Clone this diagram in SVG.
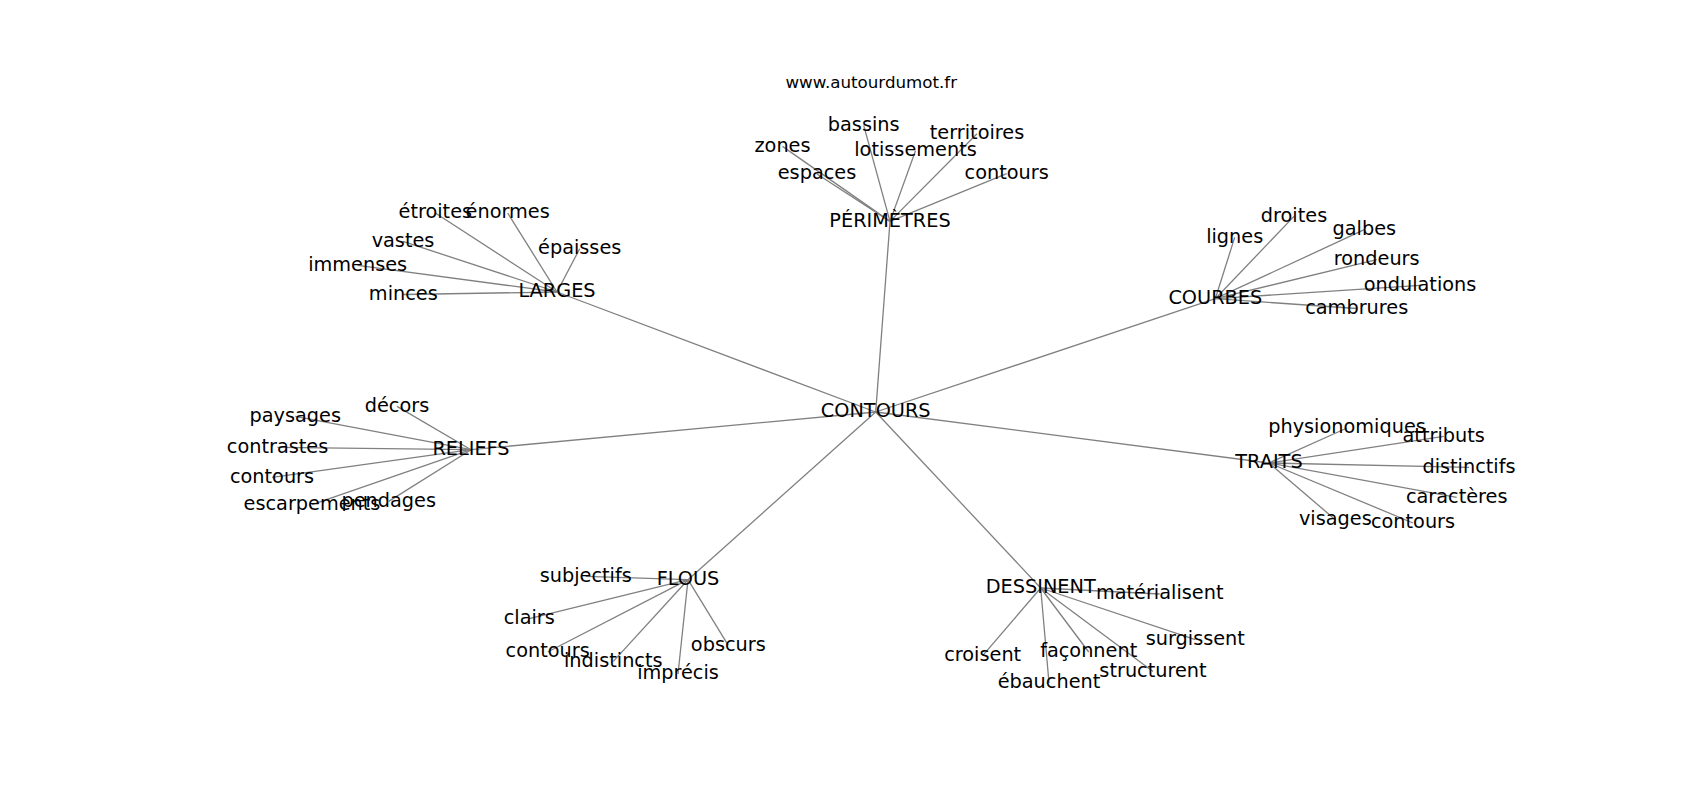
<svg xmlns="http://www.w3.org/2000/svg" width="1700" height="800" viewBox="0 0 1700 800">
<style>
text{font-family:"DejaVu Sans",sans-serif;font-size:19.3px;fill:#000;text-anchor:middle}
.title{font-size:16.7px}
.e line{stroke:#808080;stroke-width:1.3}
</style>
<rect width="1700" height="800" fill="#fff"/>
<g class="e" id="edges">
<line x1="875.7" y1="412" x2="890" y2="221.4"/>
<line x1="875.7" y1="412" x2="557" y2="292"/>
<line x1="875.7" y1="412" x2="1215.3" y2="298.7"/>
<line x1="875.7" y1="412" x2="471" y2="449.7"/>
<line x1="875.7" y1="412" x2="1269" y2="463"/>
<line x1="875.7" y1="412" x2="688" y2="579.7"/>
<line x1="875.7" y1="412" x2="1040.7" y2="588"/>
<line x1="890" y1="221.4" x2="782.5" y2="146.4"/>
<line x1="890" y1="221.4" x2="817" y2="174"/>
<line x1="890" y1="221.4" x2="863.7" y2="125.4"/>
<line x1="890" y1="221.4" x2="915.5" y2="150.7"/>
<line x1="890" y1="221.4" x2="977" y2="133.7"/>
<line x1="890" y1="221.4" x2="1006.7" y2="173.7"/>
<line x1="557" y1="292" x2="435.3" y2="213"/>
<line x1="557" y1="292" x2="507.7" y2="213"/>
<line x1="557" y1="292" x2="403" y2="241.4"/>
<line x1="557" y1="292" x2="357.7" y2="265.4"/>
<line x1="557" y1="292" x2="403.3" y2="294.5"/>
<line x1="557" y1="292" x2="579.7" y2="248.7"/>
<line x1="1215.3" y1="298.7" x2="1234.7" y2="237.4"/>
<line x1="1215.3" y1="298.7" x2="1294" y2="216.4"/>
<line x1="1215.3" y1="298.7" x2="1364.3" y2="229.7"/>
<line x1="1215.3" y1="298.7" x2="1376.7" y2="259.7"/>
<line x1="1215.3" y1="298.7" x2="1420" y2="285.4"/>
<line x1="1215.3" y1="298.7" x2="1356.7" y2="308.5"/>
<line x1="471" y1="449.7" x2="397" y2="406.4"/>
<line x1="471" y1="449.7" x2="295.3" y2="416.4"/>
<line x1="471" y1="449.7" x2="277.5" y2="447.4"/>
<line x1="471" y1="449.7" x2="272" y2="477.4"/>
<line x1="471" y1="449.7" x2="312" y2="504.7"/>
<line x1="471" y1="449.7" x2="388.7" y2="501.4"/>
<line x1="1269" y1="463" x2="1347" y2="428"/>
<line x1="1269" y1="463" x2="1443.7" y2="436.4"/>
<line x1="1269" y1="463" x2="1469" y2="467.4"/>
<line x1="1269" y1="463" x2="1456.7" y2="497.4"/>
<line x1="1269" y1="463" x2="1335.3" y2="519.7"/>
<line x1="1269" y1="463" x2="1413" y2="523"/>
<line x1="688" y1="579.7" x2="585.7" y2="576.4"/>
<line x1="688" y1="579.7" x2="529.3" y2="618.7"/>
<line x1="688" y1="579.7" x2="547.7" y2="652"/>
<line x1="688" y1="579.7" x2="613.3" y2="661.4"/>
<line x1="688" y1="579.7" x2="678" y2="674"/>
<line x1="688" y1="579.7" x2="728.3" y2="645.4"/>
<line x1="1040.7" y1="588" x2="1159.7" y2="594"/>
<line x1="1040.7" y1="588" x2="1195.3" y2="639.7"/>
<line x1="1040.7" y1="588" x2="982.7" y2="655.7"/>
<line x1="1040.7" y1="588" x2="1088.7" y2="652"/>
<line x1="1040.7" y1="588" x2="1153" y2="671.4"/>
<line x1="1040.7" y1="588" x2="1049" y2="683"/>
</g>
<text class="title" x="871.3" y="88.3">www.autourdumot.fr</text>
<g id="n-contours"><text x="875.7" y="417.3">CONTOURS</text></g>
<g id="n-perimetres"><text x="890" y="226.7">PÉRIMÈTRES</text></g>
<g id="n-zones"><text x="782.5" y="151.7">zones</text></g>
<g id="n-espaces"><text x="817" y="179.3">espaces</text></g>
<g id="n-bassins"><text x="863.7" y="130.7">bassins</text></g>
<g id="n-lotissements"><text x="915.5" y="156">lotissements</text></g>
<g id="n-territoires"><text x="977" y="139">territoires</text></g>
<g id="n-contours-p"><text x="1006.7" y="179">contours</text></g>
<g id="n-larges"><text x="557" y="297.3">LARGES</text></g>
<g id="n-etroites"><text x="435.3" y="218.3">étroites</text></g>
<g id="n-enormes"><text x="507.7" y="218.3">énormes</text></g>
<g id="n-vastes"><text x="403" y="246.7">vastes</text></g>
<g id="n-immenses"><text x="357.7" y="270.7">immenses</text></g>
<g id="n-minces"><text x="403.3" y="299.8">minces</text></g>
<g id="n-epaisses"><text x="579.7" y="254">épaisses</text></g>
<g id="n-courbes"><text x="1215.3" y="304">COURBES</text></g>
<g id="n-lignes"><text x="1234.7" y="242.7">lignes</text></g>
<g id="n-droites"><text x="1294" y="221.7">droites</text></g>
<g id="n-galbes"><text x="1364.3" y="235">galbes</text></g>
<g id="n-rondeurs"><text x="1376.7" y="265">rondeurs</text></g>
<g id="n-ondulations"><text x="1420" y="290.7">ondulations</text></g>
<g id="n-cambrures"><text x="1356.7" y="313.8">cambrures</text></g>
<g id="n-reliefs"><text x="471" y="455">RELIEFS</text></g>
<g id="n-decors"><text x="397" y="411.7">décors</text></g>
<g id="n-paysages"><text x="295.3" y="421.7">paysages</text></g>
<g id="n-contrastes"><text x="277.5" y="452.7">contrastes</text></g>
<g id="n-contours-r"><text x="272" y="482.7">contours</text></g>
<g id="n-escarpements"><text x="312" y="510">escarpements</text></g>
<g id="n-pendages"><text x="388.7" y="506.7">pendages</text></g>
<g id="n-traits"><text x="1269" y="468.3">TRAITS</text></g>
<g id="n-physionomiques"><text x="1347" y="433.3">physionomiques</text></g>
<g id="n-attributs"><text x="1443.7" y="441.7">attributs</text></g>
<g id="n-distinctifs"><text x="1469" y="472.7">distinctifs</text></g>
<g id="n-caracteres"><text x="1456.7" y="502.7">caractères</text></g>
<g id="n-visages"><text x="1335.3" y="525">visages</text></g>
<g id="n-contours-t"><text x="1413" y="528.3">contours</text></g>
<g id="n-flous"><text x="688" y="585">FLOUS</text></g>
<g id="n-subjectifs"><text x="585.7" y="581.7">subjectifs</text></g>
<g id="n-clairs"><text x="529.3" y="624">clairs</text></g>
<g id="n-contours-f"><text x="547.7" y="657.3">contours</text></g>
<g id="n-indistincts"><text x="613.3" y="666.7">indistincts</text></g>
<g id="n-imprecis"><text x="678" y="679.3">imprécis</text></g>
<g id="n-obscurs"><text x="728.3" y="650.7">obscurs</text></g>
<g id="n-dessinent"><text x="1040.7" y="593.3">DESSINENT</text></g>
<g id="n-materialisent"><text x="1159.7" y="599.3">matérialisent</text></g>
<g id="n-surgissent"><text x="1195.3" y="645">surgissent</text></g>
<g id="n-croisent"><text x="982.7" y="661">croisent</text></g>
<g id="n-faconnent"><text x="1088.7" y="657.3">façonnent</text></g>
<g id="n-structurent"><text x="1153" y="676.7">structurent</text></g>
<g id="n-ebauchent"><text x="1049" y="688.3">ébauchent</text></g>
</svg>
